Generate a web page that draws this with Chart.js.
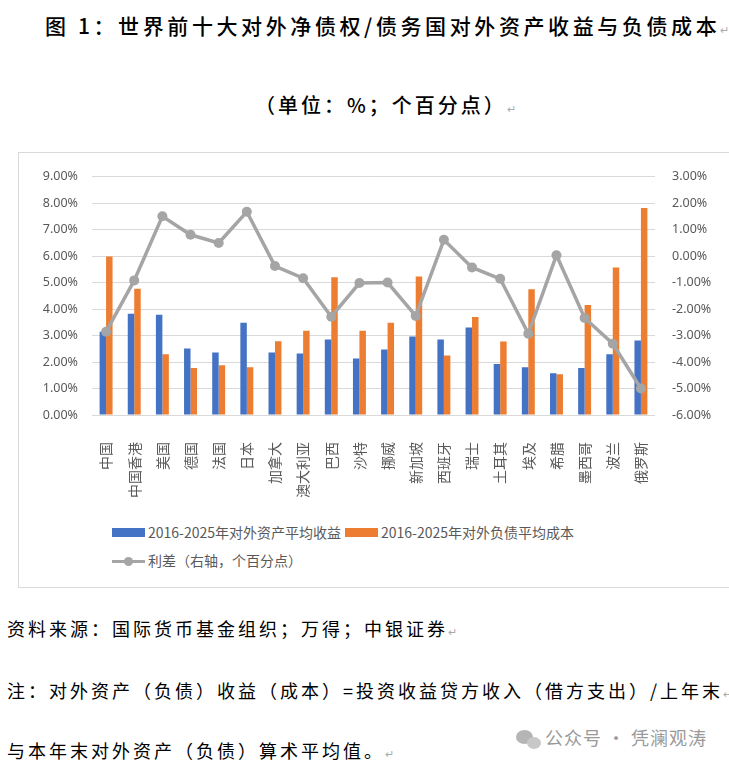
<!DOCTYPE html>
<html>
<head>
<meta charset="utf-8">
<script src="https://cdn.jsdelivr.net/npm/chart.js@4"></script>
<style>
  html, body { margin: 0; padding: 0; background: #fff; }
  body { width: 729px; height: 766px; position: relative; overflow: hidden; font-family: "Noto Sans CJK SC", sans-serif; color: #000; }
  .t { position: absolute; white-space: nowrap; }
  .pm { color: #aaa; font-size: 11px; letter-spacing: 0; font-weight: 400; }
  #title { left: 45px; top: 10px; font-size: 21px; letter-spacing: 3.6px; font-weight: 500; }
  #sub { left: 255px; top: 90px; font-size: 20px; letter-spacing: 3px; font-weight: 500; }
  #box { position: absolute; left: 18px; top: 152px; width: 740px; height: 436px; border: 1.5px solid #d9d9d9; box-sizing: border-box; }
  #wrap { position: absolute; left: 18px; top: 152px; width: 711px; height: 345px; }
  .lg { position: absolute; font-size: 14px; color: #595959; white-space: nowrap; }
  .sw { position: absolute; width: 33px; height: 9px; }
  .note { font-size: 18px; letter-spacing: 3px; }
  #wm { left: 545px; top: 724px; font-size: 18px; color: #9a9a9a; letter-spacing: 1px; }
</style>
</head>
<body>
<div class="t" id="title">图 1：世界前十大对外净债权/债务国对外资产收益与负债成本<span class="pm">↵</span></div>
<div class="t" id="sub">（单位：%；个百分点）<span class="pm">↵</span></div>

<div id="box"></div>
<div id="wrap"><canvas id="myChart"></canvas></div>

<div class="sw" style="left:112px; top:528px; background:#4472C4;"></div>
<div class="lg" style="left:148px; top:522px;">2016-2025年对外资产平均收益</div>
<div class="sw" style="left:345px; top:528px; background:#ED7D31;"></div>
<div class="lg" style="left:381px; top:522px;">2016-2025年对外负债平均成本</div>
<div style="position:absolute; left:112px; top:560px; width:33px; height:3px; background:#A5A5A5;"></div>
<div style="position:absolute; left:124px; top:557px; width:9px; height:9px; border-radius:50%; background:#A5A5A5;"></div>
<div class="lg" style="left:148px; top:550px;">利差（右轴，个百分点）</div>

<div class="t note" style="left:7px; top:615px;">资料来源：国际货币基金组织；万得；中银证券<span class="pm">↵</span></div>
<div class="t note" style="left:7px; top:677px;">注：对外资产（负债）收益（成本）=投资收益贷方收入（借方支出）/上年末<span class="pm">↵</span></div>
<div class="t note" style="left:7px; top:737px;">与本年末对外资产（负债）算术平均值。<span class="pm">↵</span></div>
<div style="position:absolute; left:516px; top:730px; width:17px; height:14px; border-radius:50%; background:#b5b5b5;"></div>
<div style="position:absolute; left:527px; top:737px; width:14px; height:12px; border-radius:50%; background:#c8c8c8;"></div>
<div class="t" id="wm">公众号 · 凭澜观涛</div>

<script>
let categories = ['中国', '中国香港', '美国', '德国', '法国', '日本', '加拿大', '澳大利亚', '巴西', '沙特',
    '挪威', '新加坡', '西班牙', '瑞士', '土耳其', '埃及', '希腊', '墨西哥', '波兰', '俄罗斯'];

// 2016-2025年对外资产平均收益 (%)
let assetYield = [3.14, 3.82, 3.78, 2.51, 2.36, 3.48, 2.36, 2.32, 2.85, 2.13,
    2.47, 2.96, 2.85, 3.30, 1.92, 1.80, 1.58, 1.77, 2.29, 2.81];

// 2016-2025年对外负债平均成本 (%)
let liabilityCost = [5.98, 4.76, 2.29, 1.77, 1.88, 1.80, 2.78, 3.18, 5.20, 3.18,
    3.48, 5.23, 2.25, 3.70, 2.77, 4.75, 1.54, 4.15, 5.57, 7.81];

// 利差 (右轴，个百分点)
let spread = [-2.86, -0.92, 1.50, 0.80, 0.49, 1.67, -0.38, -0.84, -2.29, -1.02,
    -1.00, -2.26, 0.61, -0.43, -0.86, -2.93, 0.03, -2.34, -3.31, -5.00];

let leftTicks = [0, 9, 1];
let rightTicks = [-6, 3, 1];

let tickColor = '#595959';
let gridColor = '#d9d9d9';

let pct = function(v) {
    return v.toFixed(2) + '%';
};

let ctx = document.getElementById('myChart').getContext('2d');

let myChart = new Chart(ctx, {
    data: {
        labels: categories,
        datasets: [{
            type: 'line',
            label: '利差（右轴，个百分点）',
            data: spread,
            yAxisID: 'y2',
            borderColor: '#A5A5A5',
            backgroundColor: '#A5A5A5',
            borderWidth: 3.5,
            pointRadius: 5,
            pointBackgroundColor: '#A5A5A5',
            pointBorderWidth: 0,
            tension: 0,
            order: 0
        }, {
            type: 'bar',
            label: '2016-2025年对外资产平均收益',
            data: assetYield,
            yAxisID: 'y',
            backgroundColor: '#4472C4',
            categoryPercentage: 0.46,
            barPercentage: 1.0,
            order: 1
        }, {
            type: 'bar',
            label: '2016-2025年对外负债平均成本',
            data: liabilityCost,
            yAxisID: 'y',
            backgroundColor: '#ED7D31',
            categoryPercentage: 0.46,
            barPercentage: 1.0,
            order: 1
        }]
    },
    options: {
        responsive: true,
        maintainAspectRatio: false,
        animation: false,
        layout: { padding: { top: 21, left: 0, right: 0, bottom: 0 } },
        plugins: {
            legend: { display: false },
            tooltip: { enabled: false }
        },
        scales: {
            x: {
                grid: { display: false },
                border: { display: false },
                ticks: {
                    color: tickColor,
                    font: { family: 'Noto Sans CJK SC', size: 14 },
                    maxRotation: 90,
                    minRotation: 90,
                    autoSkip: false,
                    padding: 19
                },
                afterFit: function(scale) { scale.height = 82; }
            },
            y: {
                position: 'left',
                min: leftTicks[0],
                max: leftTicks[1],
                ticks: {
                    stepSize: leftTicks[2],
                    color: tickColor,
                    font: { family: 'Noto Sans', size: 12.5 },
                    padding: 14,
                    callback: v => pct(v)
                },
                grid: { color: gridColor, lineWidth: 1, drawTicks: false },
                border: { display: false },
                afterFit: function(scale) { scale.width = 74; }
            },
            y2: {
                position: 'right',
                min: rightTicks[0],
                max: rightTicks[1],
                ticks: {
                    stepSize: rightTicks[2],
                    color: tickColor,
                    font: { family: 'Noto Sans', size: 12.5 },
                    padding: 17,
                    callback: v => pct(v)
                },
                grid: { display: false, drawTicks: false },
                border: { display: false },
                afterFit: function(scale) { scale.width = 74; }
            }
        }
    }
});
</script>
</body>
</html>
